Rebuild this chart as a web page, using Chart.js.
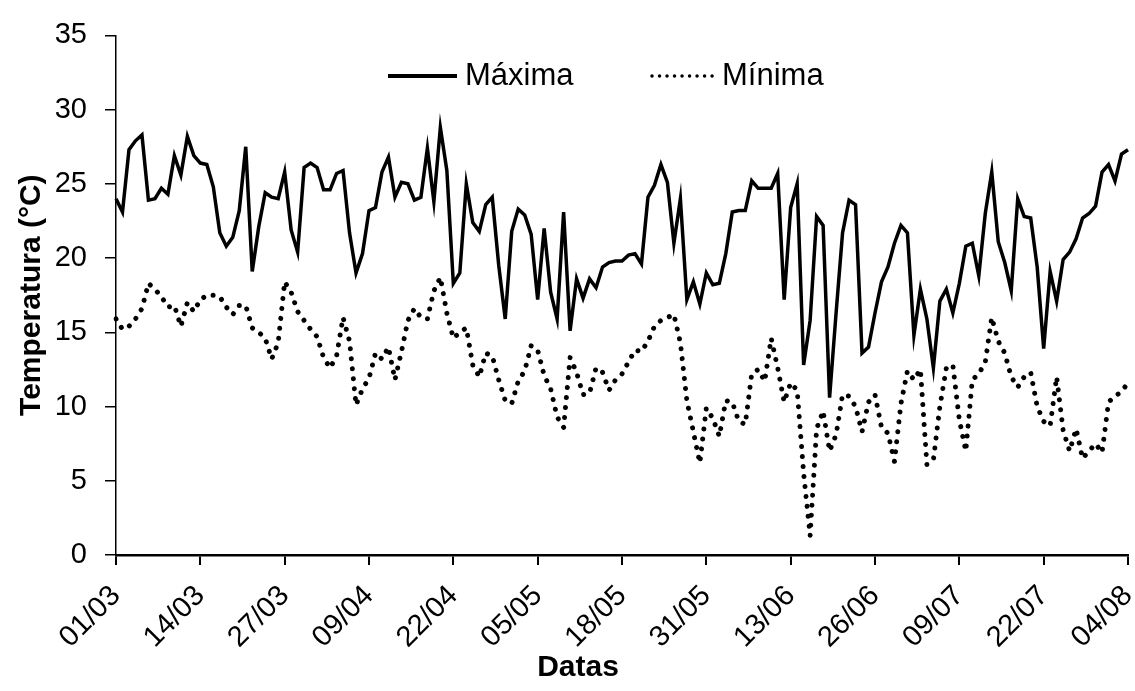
<!DOCTYPE html>
<html>
<head>
<meta charset="utf-8">
<script src="https://cdn.jsdelivr.net/npm/chart.js@4.4.1/dist/chart.umd.min.js"></script>
<style>
  body { margin: 0; background: #fff; }
  #chart-container { width: 1135px; height: 691px; position: relative; }
</style>
</head>
<body>
<div id="chart-container"><canvas id="myChart"></canvas></div>
<script>
// daily temperatures, 01/03 to 04/08
const tempMax = [
  24.0, 23.1, 27.3, 27.9, 28.3, 23.9, 24.0, 24.7, 24.3, 26.9,
  25.6, 28.2, 26.9, 26.4, 26.3, 24.8, 21.7, 20.8, 21.4, 23.2,
  27.5, 19.1, 22.1, 24.4, 24.1, 24.0, 25.8, 21.9, 20.4, 26.1,
  26.4, 26.1, 24.6, 24.6, 25.7, 25.9, 21.7, 19.0, 20.3, 23.2,
  23.4, 25.8, 26.8, 24.1, 25.1, 25.0, 23.9, 24.1, 27.4, 23.8,
  28.8, 25.9, 18.3, 19.0, 25.0, 22.4, 21.8, 23.6, 24.1, 19.5,
  15.9, 21.8, 23.3, 22.9, 21.6, 17.2, 22.0, 17.7, 15.9, 23.1,
  15.1, 18.6, 17.3, 18.6, 18.0, 19.4, 19.7, 19.8, 19.8, 20.2,
  20.3, 19.6, 24.1, 24.9, 26.3, 25.1, 21.0, 24.0, 17.2, 18.4,
  16.9, 19.0, 18.2, 18.3, 20.3, 23.1, 23.2, 23.2, 25.2, 24.7,
  24.7, 24.7, 25.7, 17.2, 23.4, 25.0, 12.8, 15.8, 22.8, 22.2,
  10.6, 16.3, 21.7, 23.9, 23.6, 13.6, 14.0, 16.3, 18.4, 19.4,
  21.0, 22.2, 21.7, 14.8, 17.9, 15.9, 12.6, 17.1, 17.9, 16.3,
  18.3, 20.8, 21.0, 18.8, 23.0, 25.8, 21.1, 19.7, 17.8, 24.0,
  22.8, 22.7, 19.4, 13.9, 19.1, 17.1, 19.9, 20.4, 21.3, 22.7,
  23.0, 23.5, 25.8, 26.3, 25.2, 27.0, 27.3
];
const tempMin = [
  15.9, 15.2, 15.4, 15.9, 16.6, 18.3, 17.9, 17.4, 16.7, 16.8,
  15.4, 17.0, 16.4, 17.2, 17.5, 17.5, 17.4, 16.7, 16.2, 16.8,
  16.8, 15.3, 15.0, 14.6, 13.2, 14.3, 18.4, 17.7, 16.4, 15.8,
  15.2, 14.7, 13.3, 12.6, 13.4, 16.0, 14.4, 10.1, 11.2, 11.9,
  13.6, 13.2, 14.0, 11.8, 13.7, 15.8, 16.6, 16.0, 15.9, 17.8,
  18.7, 16.3, 14.6, 15.0, 15.3, 12.8, 12.0, 13.6, 13.4, 11.8,
  10.4, 10.2, 11.7, 12.4, 14.1, 13.8, 12.1, 11.2, 9.3, 8.6,
  13.3, 12.3, 10.8, 10.9, 12.6, 12.3, 11.1, 11.8, 12.2, 13.0,
  13.8, 13.7, 14.4, 15.4, 15.8, 16.0, 16.2, 14.3, 10.4, 8.3,
  6.2, 9.9, 9.2, 8.0, 10.4, 10.3, 9.0, 8.8, 12.2, 12.5,
  11.7, 14.6, 12.6, 10.3, 11.6, 11.1, 5.5, 1.3, 8.5, 9.7,
  7.0, 8.1, 10.8, 10.7, 10.0, 8.3, 10.3, 10.8, 8.6, 8.2,
  6.3, 10.2, 12.4, 11.8, 12.5, 6.1, 6.4, 10.0, 12.6, 12.8,
  9.1, 7.0, 11.8, 12.2, 13.0, 16.0, 14.4, 13.6, 12.0, 11.3,
  12.0, 12.3, 10.0, 9.0, 8.7, 12.0, 8.4, 7.0, 8.5, 6.5,
  7.0, 7.5, 6.9, 10.3, 10.7, 11.0, 11.6
];
const tickLabels = ['01/03', '14/03', '27/03', '09/04', '22/04', '05/05', '18/05',
  '31/05', '13/06', '26/06', '09/07', '22/07', '04/08'];
const tickStep = 13;

// one category per day
const dates = [];
for (let i = 0; i < tempMax.length; i++) {
  const d = new Date(Date.UTC(2021, 2, 1 + i));
  dates.push(String(d.getUTCDate()).padStart(2, '0') + '/' + String(d.getUTCMonth() + 1).padStart(2, '0'));
}

const FONT = "'Liberation Sans', Arial, sans-serif";

// legend drawn inside the plot, from the datasets' own labels
const legendInside = {
  id: 'legendInside',
  afterDraw(chart) {
    const c = chart.ctx;
    const spots = [{ x: 388, w: 69, dash: [], lw: 4 }, { x: 650, w: 64, dash: [0.01, 7.5], lw: 3.5 }];
    const y = 76;
    c.save();
    c.font = '31px ' + FONT;
    c.fillStyle = '#000';
    c.strokeStyle = '#000';
    c.textBaseline = 'middle';
    chart.data.datasets.forEach((ds, i) => {
      const s = spots[i];
      c.lineWidth = s.lw;
      c.lineCap = s.dash.length ? 'round' : 'butt';
      c.setLineDash(s.dash);
      c.beginPath();
      c.moveTo(s.x + (s.dash.length ? 2 : 0), y);
      c.lineTo(s.x + s.w, y);
      c.stroke();
      c.fillText(ds.label, s.x + s.w + 8, y);
    });
    c.restore();
  }
};

// x axis title, drawn by hand so it sits where the original has it
const xTitle = {
  id: 'xTitle',
  afterDraw(chart) {
    const ctx = chart.ctx;
    ctx.save();
    ctx.font = 'bold 30px ' + FONT;
    ctx.fillStyle = '#000';
    ctx.textAlign = 'center';
    ctx.textBaseline = 'middle';
    ctx.fillText('Datas', 578, 668);
    ctx.restore();
  }
};

const ctx = document.getElementById('myChart').getContext('2d');
new Chart(ctx, {
  type: 'line',
  data: {
    labels: dates,
    datasets: [{
      label: 'Máxima',
      data: tempMax,
      borderColor: '#000',
      backgroundColor: '#000',
      borderWidth: 3.5,
      borderJoinStyle: 'miter',
      pointRadius: 0,
      tension: 0,
      fill: false
    }, {
      label: 'Mínima',
      data: tempMin,
      borderColor: '#000',
      backgroundColor: '#000',
      borderWidth: 5,
      borderDash: [0.01, 10],
      borderCapStyle: 'round',
      pointRadius: 0,
      tension: 0,
      fill: false
    }]
  },
  options: {
    responsive: true,
    maintainAspectRatio: false,
    animation: false,
    layout: { padding: { left: 0, right: 7, top: 30, bottom: 0 } },
    plugins: {
      legend: { display: false },
      tooltip: { enabled: false }
    },
    scales: {
      x: {
        afterFit: s => { s.height = 136; s.paddingLeft = 0; s.paddingRight = 0; },
        grid: { drawOnChartArea: false, drawTicks: true, tickLength: 10, color: '#000', lineWidth: 2 },
        border: { color: '#000', width: 2.5 },
        ticks: {
          autoSkip: false,
          minRotation: 45,
          maxRotation: 45,
          padding: 14,
          color: '#000',
          font: { family: FONT, size: 29 },
          callback: (val, i) => i % tickStep === 0 ? tickLabels[i / tickStep] : null
        }
      },
      y: {
        min: 0,
        max: 35,
        afterFit: s => { s.width = 116; },
        grid: { drawOnChartArea: false, drawTicks: true, tickLength: 11, color: '#000', lineWidth: 1.5 },
        border: { color: '#000', width: 1.5 },
        ticks: {
          stepSize: 5,
          padding: 18,
          color: '#000',
          font: { family: FONT, size: 29 }
        },
        title: {
          display: true,
          text: 'Temperatura (°C)',
          color: '#000',
          padding: { top: 14, bottom: 0 },
          font: { family: FONT, size: 30, weight: 'bold' }
        }
      }
    }
  },
  plugins: [legendInside, xTitle]
});
</script>
</body>
</html>
